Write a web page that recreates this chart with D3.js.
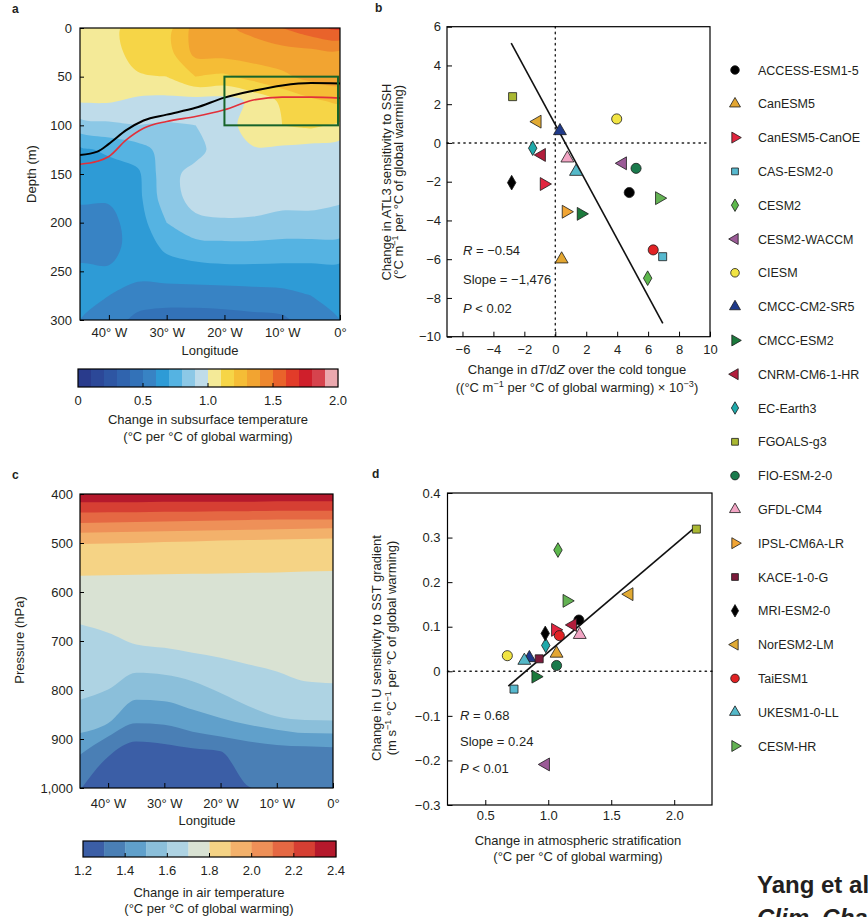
<!DOCTYPE html>
<html>
<head>
<meta charset="utf-8">
<script src="https://cdn.jsdelivr.net/npm/d3@7"></script>
<style>
  body { margin: 0; background: #fff; }
  svg text { font-family: "Liberation Sans", Arial, Helvetica, sans-serif; fill: #231f20; }
</style>
</head>
<body>
<svg id="fig" width="868" height="917"></svg>
<script>
// ---------- panel a: subsurface temperature change (depth x longitude) ----------
const lonA = [-45, -40, -35, -30, -25, -20, -15, -10, -5, 0];
const depthA = [0, 25, 50, 75, 100, 125, 150, 175, 200, 225, 250, 275, 300];
const tempA = [
  [1.06, 1.08, 1.13, 1.16, 1.34, 1.38, 1.43, 1.50, 1.57, 1.62],
  [1.05, 1.06, 1.14, 1.16, 1.33, 1.34, 1.35, 1.36, 1.37, 1.38],
  [1.04, 1.05, 1.09, 1.10, 1.20, 1.18, 1.24, 1.28, 1.33, 1.35],
  [1.01, 1.01, 0.98, 0.97, 0.96, 0.96, 1.02, 1.12, 1.18, 1.22],
  [0.86, 0.88, 0.90, 0.89, 0.90, 0.95, 1.06, 1.10, 1.12, 1.08],
  [0.68, 0.72, 0.76, 0.84, 0.87, 0.95, 0.99, 0.98, 0.96, 0.95],
  [0.65, 0.65, 0.68, 0.87, 0.93, 0.95, 0.95, 0.95, 0.94, 0.93],
  [0.61, 0.61, 0.67, 0.86, 0.93, 0.94, 0.93, 0.92, 0.92, 0.91],
  [0.57, 0.57, 0.65, 0.80, 0.88, 0.89, 0.89, 0.88, 0.88, 0.87],
  [0.56, 0.57, 0.64, 0.72, 0.76, 0.77, 0.77, 0.76, 0.76, 0.76],
  [0.62, 0.61, 0.63, 0.65, 0.66, 0.67, 0.67, 0.67, 0.67, 0.67],
  [0.62, 0.60, 0.56, 0.55, 0.55, 0.55, 0.56, 0.57, 0.60, 0.62],
  [0.60, 0.55, 0.47, 0.45, 0.45, 0.46, 0.47, 0.48, 0.55, 0.60]
];
const levelsA = [0, 0.1, 0.2, 0.3, 0.4, 0.5, 0.6, 0.7, 0.8, 0.9, 1.0, 1.1, 1.2, 1.3, 1.4, 1.5, 1.6, 1.7, 1.8, 1.9];
const colorsA = ['#293b8c', '#2c4898', '#2e56a3', '#3064ae', '#3372b8', '#3883c4', '#2e9bd6', '#55b3e2', '#8cc8e6', '#bfdcea',
                 '#f4ea98', '#f6d547', '#f5bd36', '#f2a431', '#ee872d', '#e9632b', '#e23c29', '#cf1f2b', '#d6434d', '#eba8ae'];
const cbarTicksA = [0, 0.5, 1.0, 1.5, 2.0];
const lonTicks = [-40, -30, -20, -10, 0];
const depthTicks = [0, 50, 100, 150, 200, 250, 300];
// thermocline lines and the cold-tongue box
const lineLon = [-45, -42, -40, -37, -34, -30, -25, -20, -15, -10, -5, 0];
const blackDepth = [130.5, 127, 119, 105, 95, 89, 82, 71.5, 64.5, 59, 56.5, 57];
const redDepth = [140, 137, 132, 115, 103, 96, 91, 84, 74, 71, 71, 72];
const boxLon = [-20, 0];
const boxDepth = [50, 100];

// ---------- panel c: air temperature change (pressure x longitude) ----------
const lonC = [-45, -40, -35, -30, -25, -20, -15, -10, -5, 0];
const isoLevelsC = [2.3, 2.2, 2.1, 2.0, 1.9, 1.8, 1.7, 1.6, 1.5, 1.4, 1.3];
const isoPressC = [
  [417, 417, 417, 416, 416, 416, 416, 415, 415, 415],
  [438, 437, 437, 436, 436, 435, 435, 434, 434, 434],
  [459, 458, 457, 456, 455, 454, 453, 452, 452, 452],
  [479, 478, 477, 476, 475, 474, 473, 472, 471, 470],
  [502, 501, 500, 498, 497, 495, 494, 493, 492, 491],
  [567, 566, 565, 564, 563, 562, 561, 560, 558, 557],
  [666, 683, 707, 714, 724, 734, 748, 762, 782, 786],
  [820, 799, 765, 769, 782, 806, 833, 854, 861, 862],
  [888, 868, 820, 823, 840, 857, 871, 881, 888, 889],
  [932, 895, 868, 871, 885, 895, 905, 912, 915, 917],
  [1005, 936, 905, 910, 919, 925, 997, 1012, 1012, 1012]
];
const binsC = [1.2, 1.3, 1.4, 1.5, 1.6, 1.7, 1.8, 1.9, 2.0, 2.1, 2.2, 2.3];
const colorsC = ['#3b5ea6', '#4a7fb5', '#60a0cb', '#8bbfda', '#aed3e3', '#d9e2d3',
                 '#f5d385', '#f3b16b', '#ee9058', '#e56843', '#d63f33', '#b5192c'];
const cbarTicksC = [1.2, 1.4, 1.6, 1.8, 2.0, 2.2, 2.4];
const pressTicks = [400, 500, 600, 700, 800, 900, 1000];

// ---------- panels b and d: CMIP6 models ----------
const models = ['ACCESS-ESM1-5', 'CanESM5', 'CanESM5-CanOE', 'CAS-ESM2-0', 'CESM2', 'CESM2-WACCM', 'CIESM',
  'CMCC-CM2-SR5', 'CMCC-ESM2', 'CNRM-CM6-1-HR', 'EC-Earth3', 'FGOALS-g3', 'FIO-ESM-2-0', 'GFDL-CM4',
  'IPSL-CM6A-LR', 'KACE-1-0-G', 'MRI-ESM2-0', 'NorESM2-LM', 'TaiESM1', 'UKESM1-0-LL', 'CESM-HR'];
const shapes = ['circle', 'up', 'right', 'square', 'diamond', 'left', 'circle',
  'up', 'right', 'left', 'diamond', 'square', 'circle', 'up',
  'right', 'square', 'diamond', 'left', 'circle', 'up', 'right'];
const fills = ['#000000', '#e3a631', '#e2253f', '#57b9cf', '#5db84c', '#9b5b97', '#f1e443',
  '#1f3a8a', '#1b7a3c', '#b21d3c', '#1fa9aa', '#aab832', '#1a7a4c', '#f2a5c4',
  '#f1a534', '#7b1b3b', '#000000', '#e1aa33', '#e12224', '#55b9c9', '#63b253'];
// panel b: dT/dZ change (x 10^-3) vs ATL3 sensitivity change
const bX = [4.78, 0.41, -0.73, 6.94, 5.97, 4.36, 3.97, 0.30, 1.66, -0.88, -1.46, -2.76, 5.22, 0.78,
  0.69, null, -2.82, -1.16, 6.33, 1.34, 6.72];
const bY = [-2.56, -6.0, -2.12, -5.87, -6.98, -1.05, 1.24, 0.62, -3.66, -0.62, -0.27, 2.39, -1.31, -0.79,
  -3.55, null, -2.05, 1.10, -5.52, -1.48, -2.85];
const bFitX = [-2.85, 6.95];
const bSlope = -1.476, bIntercept = 0.95;
// panel d: atmospheric stratification change vs U sensitivity change
const dX = [1.243, 1.066, 1.056, 0.728, 1.077, 0.98, 0.675, 0.85, 0.90, 1.195, 0.98, 2.176, 1.066, 1.25,
  null, 0.928, 0.976, 1.643, 1.088, 0.81, 1.147];
const dY = [0.115, 0.040, 0.093, -0.04, 0.272, -0.209, 0.035, 0.03, -0.012, 0.104, 0.058, 0.319, 0.013, 0.082,
  null, 0.028, 0.085, 0.173, 0.08, 0.024, 0.158];
const dFitX = [0.683, 2.17];
const dSlope = 0.24, dIntercept = -0.197;
const bTicksX = [-6, -4, -2, 0, 2, 4, 6, 8, 10];
const bTicksY = [-10, -8, -6, -4, -2, 0, 2, 4, 6];
const dTicksX = [0.5, 1.0, 1.5, 2.0];
const dTicksY = [-0.3, -0.2, -0.1, 0, 0.1, 0.2, 0.3, 0.4];

// ---------- helpers ----------
const svg = d3.select('#fig');
const FS = 13;

function styleAxis(g) {
  g.attr('font-size', null).attr('font-family', null);
  g.select('.domain').remove();
  g.selectAll('.tick line').attr('stroke', '#000').attr('stroke-width', 1);
  g.selectAll('.tick text').attr('font-size', FS).attr('fill', '#231f20');
}

function rich(sel, parts) {
  parts.forEach(p => {
    const [t, st] = Array.isArray(p) ? p : [p, ''];
    const ts = sel.append('tspan').text(t);
    if (st.includes('i')) ts.attr('font-style', 'italic');
    if (st.includes('s')) ts.attr('baseline-shift', 'super').attr('font-size', '70%');
  });
  return sel;
}

function label(x, y, parts, opts = {}) {
  const t = svg.append('text')
    .attr('font-size', opts.size || FS)
    .attr('text-anchor', opts.anchor || 'middle')
    .attr('font-weight', opts.weight || null)
    .attr('font-style', opts.style || null);
  if (opts.rotate) t.attr('transform', `translate(${x},${y}) rotate(-90)`);
  else t.attr('x', x).attr('y', y);
  return rich(t, parts);
}

const fmtLon = d => d === 0 ? '0°' : `${-d}° W`;

function colorbar(scale, bins, colors, y, h, ticks, fmt, tickInner) {
  const g = svg.append('g');
  const step = bins[1] - bins[0];
  g.selectAll('rect.bin').data(bins).join('rect')
    .attr('x', d => scale(d)).attr('y', y)
    .attr('width', d => scale(d + step) - scale(d) + 0.3).attr('height', h)
    .attr('fill', (d, i) => colors[i]);
  g.append('rect').attr('x', scale.range()[0]).attr('y', y)
    .attr('width', scale.range()[1] - scale.range()[0]).attr('height', h)
    .attr('fill', 'none').attr('stroke', '#000').attr('stroke-width', 1.2);
  g.selectAll('line.tk').data(tickInner).join('line')
    .attr('x1', d => scale(d)).attr('x2', d => scale(d))
    .attr('y1', y + h).attr('y2', y + h - 4).attr('stroke', '#000');
  g.selectAll('text.tl').data(ticks).join('text')
    .attr('x', d => scale(d)).attr('y', y + h + 18)
    .attr('text-anchor', 'middle').attr('font-size', FS).text(fmt);
}

// ---------- panel a ----------
{
  const xA = d3.scaleLinear().domain([-45, 0]).range([80, 340]);
  const yA = d3.scaleLinear().domain([0, 300]).range([28, 320]);
  svg.append('clipPath').attr('id', 'clipA').append('rect')
    .attr('x', 80).attr('y', 28).attr('width', 260).attr('height', 292);
  const field = svg.append('g').attr('clip-path', 'url(#clipA)');
  const nx = lonA.length, ny = depthA.length;
  const dLon = lonA[1] - lonA[0], dDep = depthA[1] - depthA[0];
  const bands = d3.contours().size([nx, ny]).thresholds(levelsA)(tempA.flat());
  const ringLine = d3.line().curve(d3.curveCatmullRomClosed.alpha(0.5));
  const toPx = p => [xA(lonA[0] + (p[0] - 0.5) * dLon), yA(depthA[0] + (p[1] - 0.5) * dDep)];
  field.selectAll('path.band').data(bands).join('path')
    .attr('d', c => c.coordinates.map(poly => poly.map(r => ringLine(r.slice(0, -1).map(toPx))).join('')).join(''))
    .attr('fill', c => colorsA[levelsA.indexOf(c.value)])
    .attr('fill-rule', 'evenodd');

  const thermo = d3.line().x((d, i) => xA(lineLon[i])).y(d => yA(d)).curve(d3.curveMonotoneX);
  field.append('path').attr('d', thermo(redDepth)).attr('fill', 'none').attr('stroke', '#e2303a').attr('stroke-width', 1.6);
  field.append('path').attr('d', thermo(blackDepth)).attr('fill', 'none').attr('stroke', '#000').attr('stroke-width', 2);
  svg.append('rect')
    .attr('x', xA(boxLon[0])).attr('y', yA(boxDepth[0]))
    .attr('width', xA(boxLon[1]) - xA(boxLon[0]) - 2).attr('height', yA(boxDepth[1]) - yA(boxDepth[0]))
    .attr('fill', 'none').attr('stroke', '#17642a').attr('stroke-width', 2);

  svg.append('rect').attr('x', 80).attr('y', 28).attr('width', 260).attr('height', 292)
    .attr('fill', 'none').attr('stroke', '#000').attr('stroke-width', 1.2);
  svg.append('g').attr('transform', 'translate(0,320)')
    .call(d3.axisBottom(xA).tickValues(lonTicks).tickFormat(fmtLon).tickSizeInner(-5).tickSizeOuter(0).tickPadding(8))
    .call(styleAxis);
  svg.append('g').attr('transform', 'translate(80,0)')
    .call(d3.axisLeft(yA).tickValues(depthTicks).tickSizeInner(-4).tickSizeOuter(0).tickPadding(8))
    .call(styleAxis);
  label(210, 355, ['Longitude']);
  label(36, 174, ['Depth (m)'], { rotate: true });
  label(12, 13, ['a'], { weight: 'bold', anchor: 'start', size: 12 });

  const cb = d3.scaleLinear().domain([0, 2]).range([78, 338]);
  colorbar(cb, levelsA, colorsA, 369, 18, cbarTicksA, d => d === 0 ? '0' : d3.format('.1f')(d), [0.5, 1.0, 1.5]);
  label(208, 424, ['Change in subsurface temperature']);
  label(208, 441, ['(°C per °C of global warming)']);
}

// ---------- panel c ----------
{
  const xC = d3.scaleLinear().domain([-45, 0]).range([80, 333]);
  const yC = d3.scaleLinear().domain([400, 1000]).range([494, 788]);
  svg.append('clipPath').attr('id', 'clipC').append('rect')
    .attr('x', 80).attr('y', 494).attr('width', 253).attr('height', 294);
  const field = svg.append('g').attr('clip-path', 'url(#clipC)');
  field.append('rect').attr('x', 80).attr('y', 494).attr('width', 253).attr('height', 294)
    .attr('fill', colorsC[colorsC.length - 1]);
  const area = d3.area().x((d, i) => xC(lonC[i])).y0(yC(1000) + 5).y1(d => yC(d)).curve(d3.curveMonotoneX);
  isoLevelsC.forEach((lv, k) => {
    const bin = binsC.findIndex(b => Math.abs(b - (lv - 0.1)) < 1e-6);
    field.append('path').attr('d', area(isoPressC[k])).attr('fill', colorsC[bin]);
  });
  svg.append('rect').attr('x', 80).attr('y', 494).attr('width', 253).attr('height', 294)
    .attr('fill', 'none').attr('stroke', '#000').attr('stroke-width', 1.2);
  svg.append('g').attr('transform', 'translate(0,788)')
    .call(d3.axisBottom(xC).tickValues(lonTicks).tickFormat(fmtLon).tickSizeInner(-5).tickSizeOuter(0).tickPadding(11))
    .call(styleAxis);
  svg.append('g').attr('transform', 'translate(80,0)')
    .call(d3.axisLeft(yC).tickValues(pressTicks).tickFormat(d3.format(',')).tickSizeInner(-4).tickSizeOuter(0).tickPadding(7))
    .call(styleAxis);
  label(207, 825, ['Longitude']);
  label(24, 640, ['Pressure (hPa)'], { rotate: true });
  label(12, 479, ['c'], { weight: 'bold', anchor: 'start', size: 12 });

  const cb = d3.scaleLinear().domain([1.2, 2.4]).range([83, 336]);
  colorbar(cb, binsC, colorsC, 841, 16, cbarTicksC, d3.format('.1f'), [1.4, 1.6, 1.8, 2.0, 2.2]);
  label(209, 897, ['Change in air temperature']);
  label(209, 913, ['(°C per °C of global warming)']);
}

// ---------- scatter helpers ----------
function symbolPath(shape, k = 1) {
  const sizes = { circle: 80, square: 64, diamond: 62, up: 72, right: 72, left: 72 };
  const types = { circle: d3.symbolCircle, square: d3.symbolSquare, diamond: d3.symbolDiamond,
    up: d3.symbolTriangle, right: d3.symbolTriangle, left: d3.symbolTriangle };
  return d3.symbol(types[shape], sizes[shape] * k * k)();
}
const rot = { right: 90, left: -90 };

function drawMarkers(g, xs, ys, sx, sy) {
  models.forEach((m, i) => {
    if (xs[i] == null) return;
    const r = rot[shapes[i]] || 0;
    g.append('path').attr('d', symbolPath(shapes[i]))
      .attr('transform', `translate(${sx(xs[i])},${sy(ys[i])}) rotate(${r})`)
      .attr('fill', fills[i]).attr('stroke', '#1a1a1a').attr('stroke-width', 0.8);
  });
}

function scatterFrame(sx, sy, ticksX, ticksY, fmtX, fmtY, padX, padY) {
  const [x0, x1] = sx.range(), [y1, y0] = sy.range();
  svg.append('g').attr('transform', `translate(0,${y1})`)
    .call(d3.axisBottom(sx).tickValues(ticksX).tickFormat(fmtX).tickSizeInner(-5).tickSizeOuter(0).tickPadding(padX))
    .call(styleAxis);
  svg.append('g').attr('transform', `translate(${x0},0)`)
    .call(d3.axisLeft(sy).tickValues(ticksY).tickFormat(fmtY).tickSizeInner(-5).tickSizeOuter(0).tickPadding(padY))
    .call(styleAxis);
  svg.append('rect').attr('x', x0).attr('y', y0).attr('width', x1 - x0).attr('height', y1 - y0)
    .attr('fill', 'none').attr('stroke', '#000').attr('stroke-width', 1.2);
}

function zeroLines(sx, sy) {
  const [x0, x1] = sx.range(), [y1, y0] = sy.range();
  const g = svg.append('g').attr('stroke', '#222').attr('stroke-width', 1.4)
    .attr('stroke-dasharray', '1.4,4.2').attr('stroke-linecap', 'round');
  g.append('line').attr('x1', x0).attr('x2', x1).attr('y1', sy(0)).attr('y2', sy(0));
  if (sx.domain()[0] < 0) g.append('line').attr('x1', sx(0)).attr('x2', sx(0)).attr('y1', y0).attr('y2', y1);
}

// ---------- panel b ----------
{
  const xB = d3.scaleLinear().domain([-7, 10]).range([447, 710]);
  const yB = d3.scaleLinear().domain([-10, 6]).range([336.7, 26.7]);
  zeroLines(xB, yB);
  svg.append('line')
    .attr('x1', xB(bFitX[0])).attr('y1', yB(bSlope * bFitX[0] + bIntercept))
    .attr('x2', xB(bFitX[1])).attr('y2', yB(bSlope * bFitX[1] + bIntercept))
    .attr('stroke', '#111').attr('stroke-width', 1.6);
  drawMarkers(svg.append('g'), bX, bY, xB, yB);
  scatterFrame(xB, yB, bTicksX, bTicksY, d3.format('d'), d3.format('d'), 8, 6);
  label(463, 255, [['R', 'i'], ' = −0.54'], { anchor: 'start' });
  label(463, 284, ['Slope = −1,476'], { anchor: 'start' });
  label(463, 313, [['P', 'i'], ' < 0.02'], { anchor: 'start' });
  label(577, 374, ['Change in d', ['T', 'i'], '/d', ['Z', 'i'], ' over the cold tongue']);
  label(577, 392, ['((°C m', ['−1', 's'], ' per °C of global warming) × 10', ['−3', 's'], ')']);
  label(391, 182, ['Change in ATL3 sensitivity to SSH'], { rotate: true });
  label(403, 182, ['(°C m', ['−1', 's'], ' per °C of global warming)'], { rotate: true });
  label(375, 12, ['b'], { weight: 'bold', anchor: 'start', size: 12 });
}

// ---------- panel d ----------
{
  const xD = d3.scaleLinear().domain([0.2, 2.3]).range([447.5, 712]);
  const yD = d3.scaleLinear().domain([-0.3, 0.4]).range([805, 493]);
  zeroLines(xD, yD);
  svg.append('line')
    .attr('x1', xD(dFitX[0])).attr('y1', yD(dSlope * dFitX[0] + dIntercept))
    .attr('x2', xD(dFitX[1])).attr('y2', yD(dSlope * dFitX[1] + dIntercept))
    .attr('stroke', '#111').attr('stroke-width', 1.6);
  drawMarkers(svg.append('g'), dX, dY, xD, yD);
  scatterFrame(xD, yD, dTicksX, dTicksY, d3.format('.1f'), d => d === 0 ? '0' : d3.format('.1f')(d), 6, 7);
  label(460, 720, [['R', 'i'], ' = 0.68'], { anchor: 'start' });
  label(460, 746, ['Slope = 0.24'], { anchor: 'start' });
  label(460, 773, [['P', 'i'], ' < 0.01'], { anchor: 'start' });
  label(578, 845, ['Change in atmospheric stratification']);
  label(578, 861, ['(°C per °C of global warming)']);
  label(381, 648, ['Change in U sensitivity to SST gradient'], { rotate: true });
  label(396, 648, ['(m s', ['−1', 's'], ' °C', ['−1', 's'], ' per °C of global warming)'], { rotate: true });
  label(372, 478, ['d'], { weight: 'bold', anchor: 'start', size: 12 });
}

// ---------- legend ----------
{
  const g = svg.append('g');
  models.forEach((m, i) => {
    const y = 70 + i * 33.8;
    const r = rot[shapes[i]] || 0;
    g.append('path').attr('d', symbolPath(shapes[i], 0.85))
      .attr('transform', `translate(735,${y}) rotate(${r})`)
      .attr('fill', fills[i]).attr('stroke', '#1a1a1a').attr('stroke-width', 0.8);
    g.append('text').attr('x', 758).attr('y', y + 4.5).attr('font-size', 12.5).text(m);
  });
}

// ---------- source note (cropped at the picture edge, as in the reference) ----------
label(757, 893, ['Yang et al.'], { anchor: 'start', size: 24, weight: 'bold' });
label(757, 926, ['Clim. Change'], { anchor: 'start', size: 24, weight: 'bold', style: 'italic' });
</script>
</body>
</html>
